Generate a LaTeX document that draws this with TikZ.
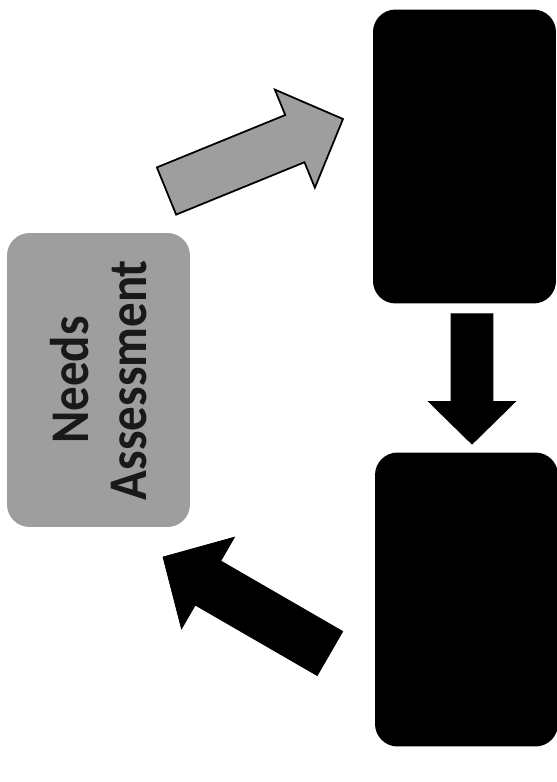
\documentclass[tikz,border=0pt]{standalone}
\usepackage{fontspec}
\setmainfont{Carlito}[FakeStretch=0.9]
\usetikzlibrary{calc}

\definecolor{shade}{gray}{0.62}

% block arrow: [scale]{style}{tail}{tip}
\newcommand\blockarrow[4][1]{%
	\coordinate (#3-base) at ($(#4)!#1*1.04cm!(#3)$);
	\filldraw[#2] ($(#3)!#1*0.51cm!90:(#4)$) -- ($(#3-base)!#1*0.51cm!90:(#4)$) -- ($(#3-base)!#1*1.06cm!90:(#4)$) -- (#4)
		-- ($(#3-base)!#1*1.06cm!-90:(#4)$) -- ($(#3-base)!#1*0.51cm!-90:(#4)$) -- ($(#3)!#1*0.51cm!-90:(#4)$) -- cycle;}

\begin{document}
\begin{tikzpicture}[x=0.02cm, y=-0.02cm, box/.style={rounded corners=0.45cm, minimum width=3.66cm, minimum height=5.88cm, inner sep=0pt}]
	\useasboundingbox (0,0) rectangle (556,782);
	\node[box, minimum width=5.88cm, minimum height=3.66cm, rotate=90, fill=shade, align=center, text=black!90, font=\bfseries\fontsize{31}{33}\selectfont] (needs) at (98.5,380) {Needs\\Assessment};
	\node[box, fill=black] (upper) at (464.5,156.5) {};
	\node[box, fill=black] (lower) at (466.5,599.5) {};
	\coordinate (g-tail) at (166.5,191);
	\coordinate (g-tip) at (343,119);
	\coordinate (d-tail) at ($(upper.south)+(7.5,10)$);
	\coordinate (d-tip) at ($(lower.north)+(5.5,-8)$);
	\coordinate (b-tail) at (330,653.5);
	\coordinate (b-tip) at (163,557);
	\blockarrow{fill=shade, draw=black, line width=1pt}{g-tail}{g-tip}
	\blockarrow[0.82]{fill=black}{d-tail}{d-tip}
	\blockarrow{fill=black}{b-tail}{b-tip}
\end{tikzpicture}
\end{document}
